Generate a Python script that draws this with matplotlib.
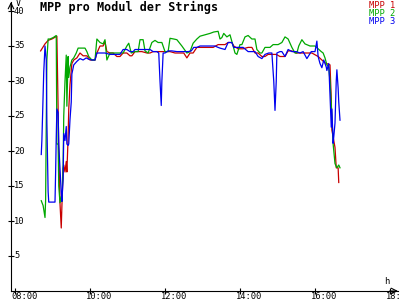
import numpy as np
import matplotlib
matplotlib.use("Agg")
import matplotlib.pyplot as plt
import matplotlib.transforms as mtransforms

# times in minutes after midnight, voltages in V
red_t = [521, 528, 533, 539, 545, 547, 549, 550, 552, 554,
         555, 557, 558, 560, 562, 563, 565, 566, 568, 570,
         571, 574, 579, 584, 589, 595, 600, 608, 611, 616,
         621, 624, 627, 632, 637, 643, 648, 653, 659, 664,
         667, 672, 677, 683, 691, 696, 701, 707, 712, 720,
         728, 736, 744, 750, 755, 760, 765, 771, 781, 789,
         797, 805, 808, 816, 821, 827, 830, 837, 845, 853,
         859, 864, 869, 875, 880, 885, 891, 898, 904, 912,
         917, 923, 930, 939, 947, 955, 965, 971, 976, 981,
         984, 986, 987, 989, 992, 994, 997, 998]
red_v = [34.3, 35.3, 35.8, 36.0, 36.3, 36.4, 26, 20, 12.5, 9,
         12, 17.5, 18, 17, 18.5, 17, 22, 26, 29.5, 31.5,
         32.5, 33, 33.3, 34, 33.6, 33.6, 33, 33, 34, 35,
         35, 35.6, 34.2, 34, 34, 33.5, 33.5, 34, 34, 33.6,
         33.6, 34.2, 34.2, 34.2, 34, 34, 34.2, 34.2, 34.2, 34.2,
         34.2, 34, 34, 34, 33.3, 34, 34, 34.8, 34.8, 34.8,
         34.8, 35.2, 35.2, 35.2, 35.5, 35.5, 35, 34.6, 34.6, 34.8,
         34.8, 34, 34, 33.5, 33.5, 33.8, 33.8, 33.8, 33.5, 33.5,
         34.3, 34.3, 34, 34, 34, 34, 33.5, 33, 32.6, 32.4,
         32.3, 27.5, 23, 22, 20.5, 17.6, 17.6, 15.5]

green_t = [522, 525, 528, 529, 530, 531, 533, 536, 541, 546,
           547, 549, 550, 552, 554, 555, 557, 558, 560, 562,
           563, 565, 566, 568, 571, 574, 578, 581, 587, 592,
           595, 598, 603, 608, 611, 616, 621, 624, 627, 632,
           640, 648, 653, 659, 662, 666, 672, 677, 680, 685,
           688, 693, 699, 704, 709, 715, 720, 725, 728, 734,
           739, 747, 755, 760, 765, 771, 776, 784, 792, 798,
           805, 808, 811, 814, 819, 824, 829, 832, 835, 840,
           843, 848, 853, 859, 864, 867, 872, 875, 880, 888,
           893, 901, 907, 912, 917, 923, 928, 931, 934, 939,
           944, 952, 960, 965, 970, 973, 976, 979, 982, 984,
           987, 989, 992, 995, 998, 1000]
green_v = [12.9, 12.2, 10.5, 13, 24, 33, 36, 36, 36.2, 36.5,
           21, 21, 15, 12.6, 13.5, 12.8, 18, 25, 30, 33.7,
           26.4, 33.5, 30.5, 32, 33, 33.3, 34, 34.7, 34.7, 34.7,
           34.2, 33.5, 33, 33, 36, 35.5, 35.3, 35.9, 33, 34,
           34, 34, 34, 35, 35.4, 34, 34.2, 34.2, 35.9, 35.9,
           34.3, 34, 35.5, 35.8, 35.5, 35.5, 34.2, 34.2, 36.1, 36,
           35.9, 35, 34, 34.2, 35.4, 36, 36.4, 36.6, 36.8, 37,
           37.1, 36, 36.2, 36.8, 36.3, 36.6, 35, 34, 33.8, 35.2,
           35.2, 36.3, 36.5, 36, 36, 34.5, 34, 34, 34.8, 34.8,
           35.2, 35.2, 35.5, 36.3, 36, 34.8, 34, 34, 35, 35.9,
           35.3, 35, 35, 34.6, 34.2, 34, 33.3, 32.3, 32, 30,
           25, 21, 18.2, 17.6, 18, 17.6]

blue_t = [522, 523, 525, 526, 528, 530, 531, 533, 534, 539,
          544, 545, 546, 547, 549, 550, 552, 554, 555, 557,
          558, 560, 562, 563, 565, 566, 568, 570, 571, 574,
          579, 584, 589, 594, 598, 603, 608, 611, 616, 621,
          624, 632, 640, 648, 653, 659, 664, 669, 672, 680,
          688, 696, 701, 707, 710, 712, 714, 715, 717, 720,
          725, 731, 739, 744, 752, 757, 762, 766, 771, 776,
          784, 792, 800, 805, 808, 816, 821, 827, 830, 837,
          845, 853, 859, 864, 869, 875, 880, 886, 891, 894,
          896, 898, 899, 904, 907, 912, 917, 923, 930, 936,
          941, 947, 954, 960, 963, 965, 968, 971, 974, 978,
          979, 982, 984, 986, 987, 989, 990, 992, 994, 995,
          997, 998, 1000]
blue_v = [19.5, 21.5, 28, 31.3, 35, 33, 24, 14.2, 12.7, 12.7,
          12.7, 17, 22, 26, 25.5, 21, 17.5, 14, 12.8, 16,
          22.5, 21.5, 23.5, 21, 20.8, 21, 24.5, 27, 31, 32.3,
          32.8, 33.2, 33, 33.3, 33.1, 33, 33, 34, 34, 34,
          34, 33.8, 33.8, 33.8, 34.5, 34.5, 34.2, 34.2, 34.5, 34.5,
          34.5, 34.5, 34.2, 34.2, 34, 30, 26.5, 30, 34, 34,
          34.3, 34.3, 34.2, 34.2, 34.2, 34.2, 34.3, 34.8, 34.8, 35,
          35, 35, 35, 34.8, 34.7, 34.5, 35.5, 35.5, 34.8, 34.8,
          34.8, 34.2, 34.2, 34.2, 33.5, 33.2, 33.8, 34, 34, 30,
          25.8, 30, 34, 34.2, 34.2, 33.5, 34.5, 34.2, 34.2, 34,
          34.2, 33.2, 34.2, 34.2, 35.7, 33.5, 32.5, 31.9, 33, 32,
          31.5, 32.5, 28, 23.4, 26, 21.1, 22, 24, 30, 31.6,
          29, 27, 24.4]

series = [("MPP 1", red_t, red_v, "#c80000"),
          ("MPP 2", green_t, green_v, "#00a800"),
          ("MPP 3", blue_t, blue_v, "#0000f0")]

xticks = [8, 10, 12, 14, 16, 18]
xticklabels = ["08:00", "10:00", "12:00", "14:00", "16:00", "18:00"]
yticks = [5, 10, 15, 20, 25, 30, 35, 40]

mono = "DejaVu Sans Mono"

fig = plt.figure(figsize=(4, 3), dpi=100)
ax = fig.add_axes([11/400, 9/300, 387/400, 289/300])
ax.set_xlim(8 - 4/37.5, 8 + 383/37.5)
ax.set_ylim(0, 289/7.0)

for name, t, v, c in series:
    ax.plot(np.array(t)/60.0, v, color=c, lw=0.9)

for s in ["top", "right"]:
    ax.spines[s].set_visible(False)
for s in ["left", "bottom"]:
    ax.spines[s].set_linewidth(0.8)
    ax.spines[s].set_color("black")

# arrow heads on the axes
ax.annotate("", xy=(1, 0), xycoords="axes fraction", xytext=(-6, 0),
            textcoords="offset points",
            arrowprops=dict(arrowstyle="->", lw=0.8, color="k", shrinkA=0, shrinkB=0))
ax.annotate("", xy=(0, 1), xycoords="axes fraction", xytext=(0, -6),
            textcoords="offset points",
            arrowprops=dict(arrowstyle="->", lw=0.8, color="k", shrinkA=0, shrinkB=0))

ax.set_xticks(xticks)
ax.set_yticks(yticks)
ax.tick_params(direction="inout", length=5, width=0.8, labelbottom=False, labelleft=False)

ytrans = mtransforms.offset_copy(ax.get_yaxis_transform(), fig=fig, x=3, y=0, units="dots")
for yv in yticks:
    ax.text(0, yv, str(yv), transform=ytrans, ha="left", va="center",
            fontsize=6.3, family=mono, clip_on=False)

xtrans = mtransforms.offset_copy(ax.get_xaxis_transform(), fig=fig, x=-4, y=-1, units="dots")
for xv, lab in zip(xticks, xticklabels):
    ax.text(xv, 0, lab, transform=xtrans, ha="left", va="top",
            fontsize=6.3, family=mono, clip_on=False)

fig.text(40/400, 1 - 7/300, "MPP pro Modul der Strings", ha="left", va="center",
         fontsize=8.5, fontweight="bold", family=mono)
fig.text(16/400, 1 - 3/300, "V", ha="left", va="center", fontsize=6, family=mono)
fig.text(387/400, 1 - 282/300, "h", ha="center", va="center", fontsize=6.3, family=mono)

for i, (name, t, v, c) in enumerate(series):
    fig.text(395/400, 1 - (5 + 8*i)/300, name, ha="right", va="center",
             fontsize=6.3, family=mono, color=c)

fig.savefig("out.png", dpi=100)
